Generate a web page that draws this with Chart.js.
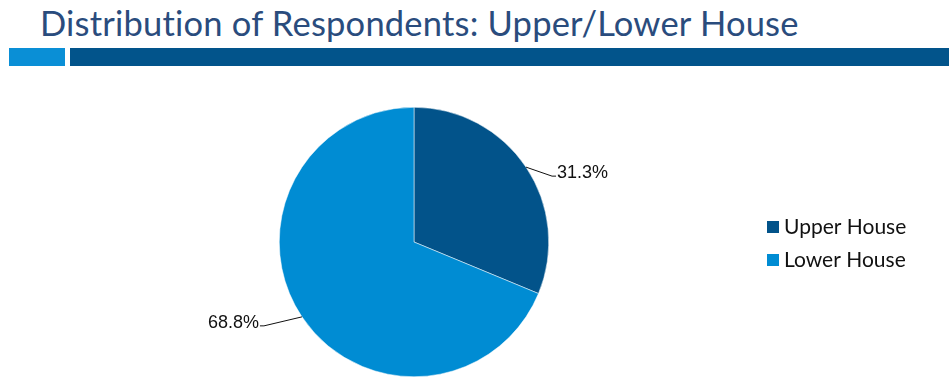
<!DOCTYPE html>
<html>
<head>
<meta charset="utf-8">
<script src="https://cdn.jsdelivr.net/npm/chart.js@4"></script>
<style>
  html, body { margin: 0; padding: 0; background: #fff; }
  #wrap { position: relative; width: 949px; height: 377px; overflow: hidden; }
  #title {
    position: absolute; left: 40px; top: 2px;
    font-family: Lato, sans-serif; font-size: 34.5px; color: #2a4c7d;
    white-space: nowrap; letter-spacing: 0.2px;
  }
  .bar { position: absolute; top: 48px; height: 18px; }
  #bar1 { left: 9px; width: 56px; background: #0a8fd6; }
  #bar2 { left: 70px; right: 0; background: #02548b; }
  canvas { position: absolute; left: 0; top: 0; }
</style>
</head>
<body>
<div id="wrap">
  <div id="title">Distribution of Respondents: Upper/Lower House</div>
  <div class="bar" id="bar1"></div>
  <div class="bar" id="bar2"></div>
  <canvas id="chart" width="949" height="377"></canvas>
</div>
<script>
const categories = ['Upper House', 'Lower House'];
const shares = [31.25, 68.75];
const shareLabels = ['31.3%', '68.8%'];
const colors = ['#02538a', '#008cd3'];

// leader lines + percent labels
const labelPlugin = {
  id: 'pctLabels',
  afterDatasetsDraw(chart) {
    const ctx = chart.ctx;
    const arcs = chart.getDatasetMeta(0).data;
    ctx.save();
    ctx.font = '18px "Liberation Sans", Arial, sans-serif';
    ctx.fillStyle = '#111';
    ctx.strokeStyle = '#111';
    ctx.lineWidth = 1;
    ctx.textBaseline = 'middle';
    arcs.forEach((arc, i) => {
      const mid = (arc.startAngle + arc.endAngle) / 2;
      const ex = arc.x + Math.cos(mid) * arc.outerRadius;
      const ey = arc.y + Math.sin(mid) * arc.outerRadius;
      const right = Math.cos(mid) >= 0;
      const lx = ex + (right ? 26 : -38);
      const ly = ey + 9;
      ctx.beginPath();
      ctx.moveTo(ex, ey);
      ctx.lineTo(lx, ly);
      ctx.lineTo(lx + (right ? 4 : -4), ly);
      ctx.stroke();
      ctx.textAlign = right ? 'left' : 'right';
      ctx.fillText(shareLabels[i], lx + (right ? 5 : -5), ly - 3);
    });
    ctx.restore();
  }
};

// legend on the right
const legendPlugin = {
  id: 'sideLegend',
  afterDraw(chart) {
    const ctx = chart.ctx;
    ctx.save();
    ctx.font = '21px Lato, sans-serif';
    ctx.textBaseline = 'middle';
    ctx.textAlign = 'left';
    categories.forEach((c, i) => {
      const y = 227 + i * 33;
      ctx.fillStyle = colors[i];
      ctx.fillRect(767, y - 6, 12, 12);
      ctx.fillStyle = '#111';
      ctx.fillText(c, 784, y);
    });
    ctx.restore();
  }
};

new Chart(document.getElementById('chart'), {
  type: 'pie',
  data: {
    labels: categories,
    datasets: [{
      data: shares,
      backgroundColor: colors,
      borderColor: '#ffffff',
      borderWidth: 0.5
    }]
  },
  options: {
    responsive: false,
    animation: false,
    layout: { padding: { left: 279, right: 400, top: 107, bottom: 0 } },
    plugins: {
      legend: { display: false },
      tooltip: { enabled: false }
    }
  },
  plugins: [labelPlugin, legendPlugin]
});
</script>
</body>
</html>
